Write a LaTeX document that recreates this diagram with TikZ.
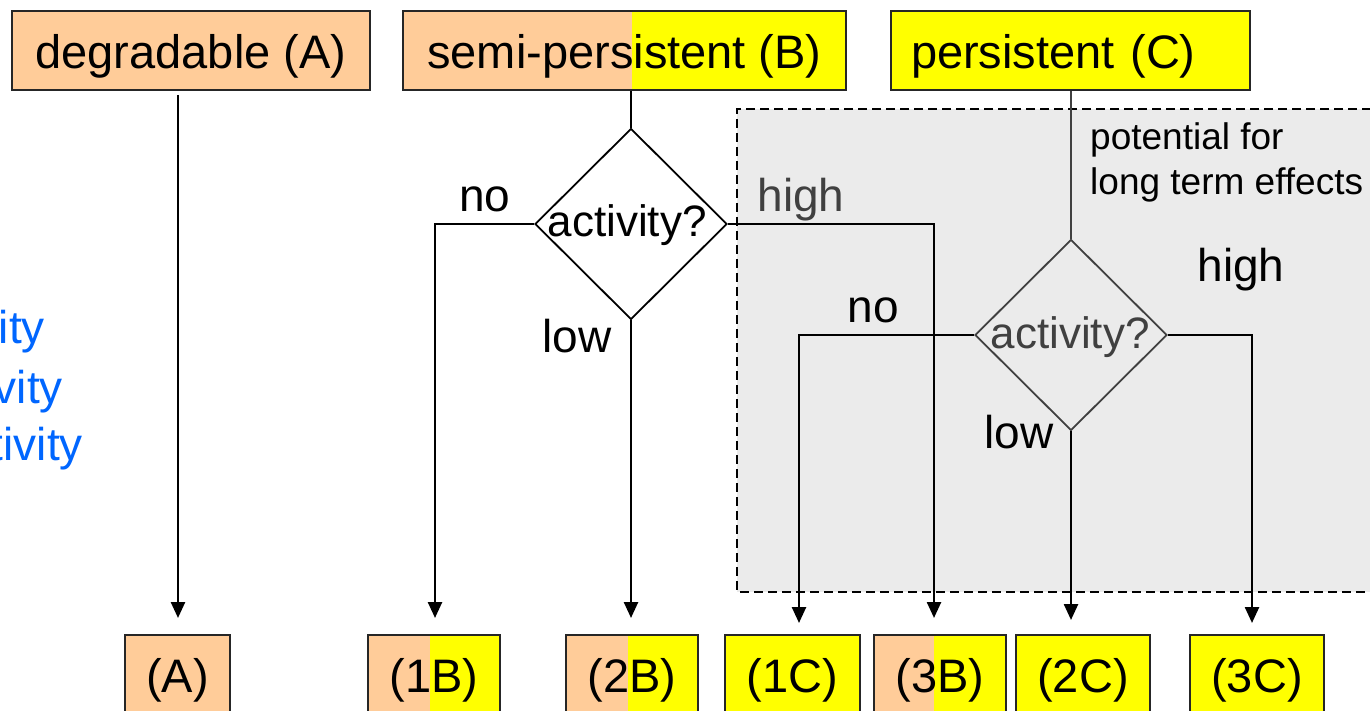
\documentclass[tikz,border=0pt]{standalone}
\usepackage{fontspec}
\setmainfont{Liberation Sans}
\usetikzlibrary{arrows.meta,shapes.geometric}
\definecolor{peach}{HTML}{FFCC99}
\definecolor{yel}{HTML}{FFFF00}
\definecolor{region}{HTML}{EBEBEB}
\definecolor{dgray}{HTML}{404040}
\definecolor{blueish}{HTML}{0066FF}
\tikzset{
  bigfont/.style={font=\fontsize{47}{56}\selectfont},
  topbox/.style={draw=black!85, line width=2pt, inner ysep=0pt, text height=58pt, text depth=21pt, bigfont, anchor=north west},
  botbox/.style={draw=black!85, line width=2pt, inner ysep=0pt, inner xsep=0pt, text height=57pt, text depth=33pt, bigfont, anchor=north west},
  splitfill/.style={fill=yel, path picture={\fill[peach] (path picture bounding box.south west) rectangle ([xshift=#1]path picture bounding box.north west);}},
  dia/.style={diamond, draw, line width=1.8pt, minimum width=192pt, minimum height=191pt, inner sep=0pt},
  lbl/.style={font=\fontsize{46}{55}\selectfont, anchor=base, inner sep=0pt},
  dtext/.style={font=\fontsize{44}{52}\selectfont, anchor=base, inner sep=0pt},
  small/.style={font=\fontsize{37}{45}\selectfont, anchor=base west, inner sep=0pt},
  conn/.style={line width=2.5pt},
  arr/.style={conn, -{Triangle[length=16pt,width=14pt]}},
}
\begin{document}
\begin{tikzpicture}[x=1pt,y=-1pt]
\useasboundingbox (0,0) rectangle (1370,711);
\clip (0,0) rectangle (1370,711);

% grey region
\fill[region] (737,109) rectangle (1385,592);
\draw[line width=2.5pt, dash pattern=on 9pt off 5pt] (1385,109) -- (737,109) -- (737,592) -- (1385,592);

% left blue text
\node[lbl, anchor=base east, text=blueish] (bt1) at (45,343) {ity};
\node[lbl, anchor=base east, text=blueish] (bt2) at (63,403) {vity};
\node[lbl, anchor=base east, text=blueish] (bt3) at (83,460) {tivity};

% top boxes
\node[topbox, fill=peach, minimum width=358pt] (degA) at (11,10) {degradable (A)};
\node[topbox, splitfill=229pt, minimum width=443pt] (semiB) at (402,10) {semi-persistent (B)};
\node[topbox, fill=yel, minimum width=359pt, text width=319pt, inner xsep=20pt, align=left] (persC) at (890,10) {persistent (C)};

% bottom boxes
\node[botbox, fill=peach, minimum width=105pt] (A) at (124,634) {(A)};
\node[botbox, splitfill=62pt, minimum width=132pt] (B1) at (367,634) {(1B)};
\node[botbox, splitfill=62pt, minimum width=132pt] (B2) at (565,634) {(2B)};
\node[botbox, fill=yel, minimum width=135pt] (C1) at (724,634) {(1C)};
\node[botbox, splitfill=60pt, minimum width=132pt] (B3) at (873,634) {(3B)};
\node[botbox, fill=yel, minimum width=134pt] (C2) at (1015,634) {(2C)};
\node[botbox, fill=yel, minimum width=134pt] (C3) at (1189,634) {(3C)};

% diamonds
\node[dia] (d1) at (631,224) {};
\node[dtext] (d1t) at (627,237) {activity?};
\node[dia, draw=dgray, fill=region] (d2) at (1071,335) {};
\node[dtext, text=dgray] (d2t) at (1070,348) {activity?};

% corner coordinates
\coordinate (ka) at (178,95);
\coordinate (k1) at (435,224);
\coordinate (k2) at (934,224);
\coordinate (k3) at (799,335);
\coordinate (k4) at (1252,335);

% connectors
\draw[arr, shorten >=16pt] (ka) -- (ka |- A.north);
\draw[conn] (semiB.south -| d1.north) -- (d1.north);
\draw[arr, shorten >=16pt] (d1.west) -- (k1) -- (k1 |- B1.north);
\draw[arr, shorten >=16pt] (d1.south) -- (d1.south |- B2.north);
\draw[arr, shorten >=16pt] (d1.east) -- (k2) -- (k2 |- B3.north);
\draw[conn, draw=dgray] (persC.south -| d2.north) -- (d2.north);
\draw[arr, shorten >=11pt] (d2.west) -- (k3) -- (k3 |- C1.north);
\draw[arr, shorten >=14pt] (d2.south) -- (d2.south |- C2.north);
\draw[arr, shorten >=11pt] (d2.east) -- (k4) -- (k4 |- C3.north);

% labels
\node[lbl] (no1) at (485,212) {no};
\node[lbl] (low1) at (577,352) {low};
\node[lbl, text=dgray] (high1) at (801,212) {high};
\node[lbl] (no2) at (873,322) {no};
\node[lbl] (low2) at (1019,448) {low};
\node[lbl] (high2) at (1241,282) {high};
\node[small] (pot1) at (1090,150) {potential for};
\node[small] (pot2) at (1090,195) {long term effects};
\end{tikzpicture}
\end{document}
